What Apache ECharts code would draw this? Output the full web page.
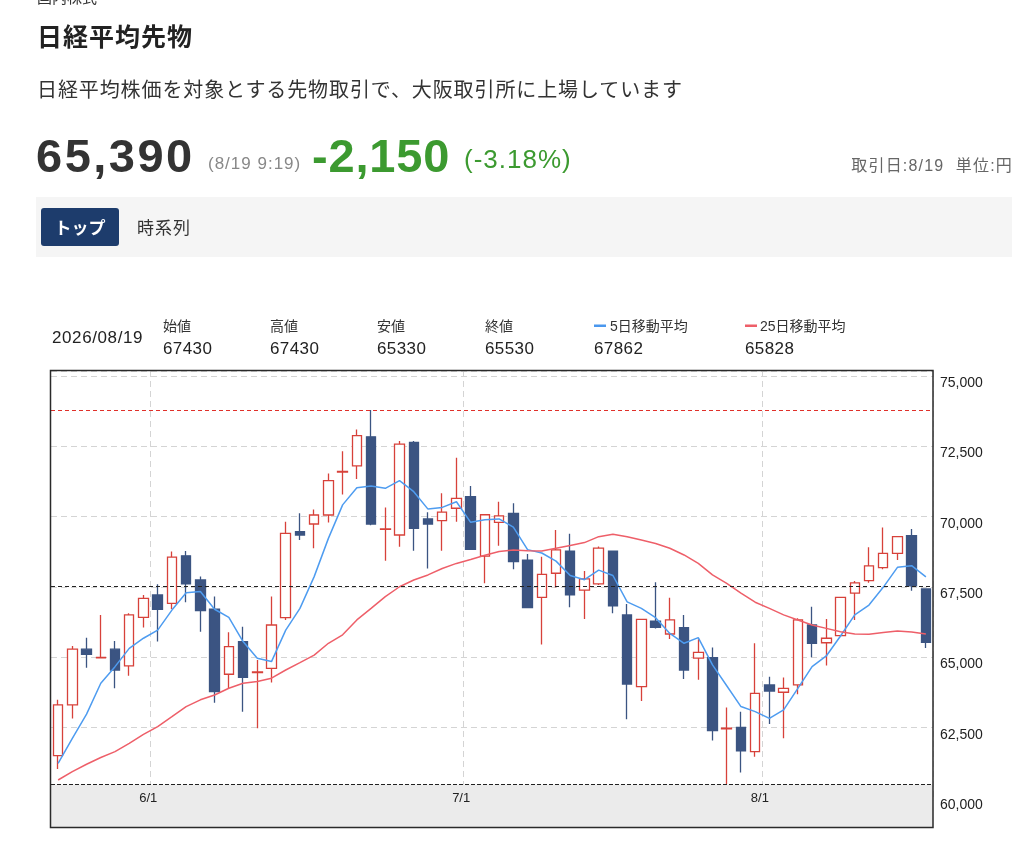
<!DOCTYPE html>
<html><head><meta charset="utf-8">
<script src="https://cdn.jsdelivr.net/npm/echarts@6/dist/echarts.min.js"></script>
<style>
html,body{margin:0;padding:0;background:#fff;width:1024px;height:859px;overflow:hidden}
#chart{position:absolute;left:0;top:0;width:1024px;height:859px}
#hdr{position:absolute;left:0;top:0;width:1024px;height:370px;pointer-events:none}
#hdr text{font-family:"Liberation Sans","Noto Sans CJK JP",sans-serif}
#hdr .jp{font-family:"Noto Sans CJK JP",sans-serif}
</style></head><body>
<div id="chart"></div>
<svg id="hdr" width="1024" height="370" xmlns="http://www.w3.org/2000/svg">
  <text class="jp" x="37" y="3" font-size="15" fill="#333">国内株式</text>
  <text class="jp" x="37" y="46" font-size="25" font-weight="bold" fill="#222" letter-spacing="1">日経平均先物</text>
  <text class="jp" x="37" y="97" font-size="20" fill="#333" letter-spacing="0.9">日経平均株価を対象とする先物取引で、大阪取引所に上場しています</text>
  <text x="36" y="172" font-size="47" font-weight="bold" fill="#333" letter-spacing="2.5">65,390</text>
  <text x="208" y="169" font-size="17" fill="#888" letter-spacing="1">(8/19 9:19)</text>
  <text x="312" y="172" font-size="47" font-weight="bold" fill="#3c9a30" letter-spacing="0.8">-2,150</text>
  <text x="464" y="168" font-size="26" fill="#3c9a30" letter-spacing="1">(-3.18%)</text>
  <text x="1013" y="171" font-size="16" fill="#666" text-anchor="end" letter-spacing="1.2">取引日:8/19&#160;&#160;単位:円</text>
  <rect x="36" y="197" width="976" height="60" fill="#f5f5f5"/>
  <rect x="41" y="208" width="78" height="38" rx="3" fill="#1d3c6c"/>
  <text class="jp" x="80" y="234" font-size="17" font-weight="bold" fill="#fff" text-anchor="middle">トップ</text>
  <text class="jp" x="137" y="234" font-size="17" fill="#333" letter-spacing="1">時系列</text>
  <text id="infoDate" x="52" y="343" font-size="17" fill="#222" letter-spacing="0.6"></text>
  <text class="jp" x="163" y="331" font-size="14" fill="#333">始値</text>
  <text class="jp" x="270" y="331" font-size="14" fill="#333">高値</text>
  <text class="jp" x="377" y="331" font-size="14" fill="#333">安値</text>
  <text class="jp" x="485" y="331" font-size="14" fill="#333">終値</text>
  <rect x="594" y="324.5" width="12" height="2.5" fill="#4a97ee"/>
  <text x="610" y="331" font-size="14" fill="#333">5日移動平均</text>
  <rect x="745" y="324.5" width="12" height="2.5" fill="#ee5f69"/>
  <text x="760" y="331" font-size="14" fill="#333">25日移動平均</text>
  <text id="vO" x="163" y="354" font-size="17" fill="#222" letter-spacing="0.4"></text>
  <text id="vH" x="270" y="354" font-size="17" fill="#222" letter-spacing="0.4"></text>
  <text id="vL" x="377" y="354" font-size="17" fill="#222" letter-spacing="0.4"></text>
  <text id="vC" x="485" y="354" font-size="17" fill="#222" letter-spacing="0.4"></text>
  <text id="vM5" x="594" y="354" font-size="17" fill="#222" letter-spacing="0.4"></text>
  <text id="vM25" x="745" y="354" font-size="17" fill="#222" letter-spacing="0.4"></text>
</svg>
<script>
const dates = [
 '2026/05/21','2026/05/22','2026/05/25','2026/05/26','2026/05/27','2026/05/28','2026/05/29',
 '2026/06/01','2026/06/02','2026/06/03','2026/06/04','2026/06/05','2026/06/08','2026/06/09','2026/06/10','2026/06/11','2026/06/12',
 '2026/06/15','2026/06/16','2026/06/17','2026/06/18','2026/06/19','2026/06/22','2026/06/23','2026/06/24','2026/06/25','2026/06/26',
 '2026/06/29','2026/06/30',
 '2026/07/01','2026/07/02','2026/07/03','2026/07/06','2026/07/07','2026/07/08','2026/07/09','2026/07/10','2026/07/13','2026/07/14',
 '2026/07/15','2026/07/16','2026/07/17','2026/07/21','2026/07/22','2026/07/23','2026/07/24','2026/07/27','2026/07/28','2026/07/29','2026/07/30',
 '2026/08/03','2026/08/04','2026/08/05','2026/08/06','2026/08/07','2026/08/10','2026/08/12','2026/08/13','2026/08/14','2026/08/17','2026/08/18','2026/08/19'
];
const opens = [61510,63310,65290,64980,65290,64700,66420,67220,66920,68610,67750,66710,64400,65560,64460,64610,66410,69470,69740,70060,71590,71810,72840,69550,69350,72640,69920,69860,70300,70710,68600,69800,70120,68460,67130,67990,68780,67390,67610,68780,66510,63960,66290,65830,66060,64970,64990,62460,62510,61650,64020,63760,64020,66150,65520,65770,67280,67730,68190,68700,69330,67430];
const highs = [63490,65400,65700,66510,65580,66570,67220,67600,68760,68780,67870,67160,65890,66090,64910,67160,69820,70120,70260,71540,72330,73100,73790,70330,72690,72690,70160,70830,72100,71090,70080,70530,70480,68670,68580,69530,69390,68070,68940,68800,66900,66360,67670,67120,66510,65640,65350,63220,63070,65500,64310,64280,66390,66800,66360,67140,67710,68910,69620,69310,69560,67430];
const lows = [61030,62830,64630,64970,63900,64350,66060,65560,66720,66960,65910,63390,63880,63070,62480,64110,66330,69170,68880,69790,70790,71340,69700,68430,68930,68790,68160,68790,69820,68830,67630,68970,68130,66760,65460,67480,66780,66360,67570,66570,62800,63450,66030,65650,64230,64200,62040,60500,60910,61470,62630,62120,63690,65000,64710,65760,66330,67650,68130,68460,67370,65330];
const closes = [63310,65290,65110,65000,64550,66510,67100,66710,68560,67610,66660,63780,65380,64290,64480,66150,69410,69350,70060,71280,71610,72880,69740,69570,72580,69590,69740,70160,70650,68840,70070,70030,68400,66770,67950,68820,67220,67790,68880,66830,64050,66350,66070,66330,64550,65180,62400,62480,61680,63720,63800,63900,66330,65500,65680,67130,67650,68250,68700,69290,67540,65530];
const ma5 = [61230,62120,62980,64080,64670,65320,65680,65970,66680,67300,67340,66710,66420,65560,64970,64850,65970,66740,67870,69230,70420,71030,71090,71010,71280,70890,70270,70330,70530,69800,69890,69920,69630,68830,68710,68420,67910,67760,68100,67910,66970,66740,66410,65850,65500,65700,64730,63990,63250,63070,62830,63130,63900,64670,65050,65760,66510,66860,67490,68200,68260,67862];
const ma25 = [60640,60940,61200,61440,61650,61940,62260,62540,62890,63250,63490,63660,63900,64080,64140,64260,64550,64810,65080,65500,65800,66330,66740,67160,67510,67750,67930,68160,68340,68480,68630,68760,68820,68790,68780,68880,68980,69080,69290,69380,69290,69170,69050,68880,68640,68340,67930,67630,67280,66960,66740,66510,66330,66150,66030,65910,65830,65820,65880,65940,65900,65828];
const prevClose = 67540;
const yTicks = {min: 60000, max: 75180, step: 2500};

const last = dates.length - 1;
document.getElementById('infoDate').textContent = dates[last];
document.getElementById('vO').textContent = opens[last];
document.getElementById('vH').textContent = highs[last];
document.getElementById('vL').textContent = lows[last];
document.getElementById('vC').textContent = closes[last];
document.getElementById('vM5').textContent = ma5[last];
document.getElementById('vM25').textContent = ma25[last];

const candleData = dates.map((d, i) => [opens[i], closes[i], lows[i], highs[i]]);
const isMonthStart = (i) => i > 0 && dates[i].slice(5, 7) !== dates[i - 1].slice(5, 7);

const NAVY = '#3b5482', RED = '#d7413a';
const chart = echarts.init(document.getElementById('chart'), null, {renderer: 'canvas'});
chart.setOption({
  animation: false,
  backgroundColor: 'transparent',
  textStyle: {fontFamily: '"Liberation Sans", Arial, sans-serif'},
  grid: {left: 51, right: 91, top: 371, bottom: 61, containLabel: false, outerBoundsMode: 'none'},
  xAxis: [{
    type: 'category', data: dates, boundaryGap: true, z: 5,
    axisLine: {show: false}, axisTick: {show: false}, splitLine: {show: false},
    axisLabel: {
      interval: (i) => isMonthStart(i),
      formatter: (v) => parseInt(v.slice(5, 7), 10) + '/1',
      margin: 0, verticalAlign: 'middle', padding: [0, 19, 0, 0],
      fontSize: 13, color: '#222'
    }
  }, {
    type: 'category', data: dates, boundaryGap: true, position: 'top', z: 0,
    axisLine: {show: false}, axisTick: {show: false}, axisLabel: {show: false},
    splitLine: {show: true, interval: (i) => isMonthStart(i), lineStyle: {color: '#d4d4d4', type: [6, 4], width: 1}}
  }],
  yAxis: {
    type: 'value', position: 'right', min: yTicks.min, max: yTicks.max, interval: yTicks.step,
    axisLine: {show: false}, axisTick: {show: false},
    splitLine: {lineStyle: {color: '#d4d4d4', type: [6, 4], width: 1}},
    axisLabel: {
      margin: 7, fontSize: 14, color: '#222', verticalAlign: 'top', lineHeight: 14,
      showMaxLabel: false,
      formatter: (v) => (v % yTicks.step === 0 ? v.toLocaleString('en-US') : '')
    }
  },
  graphic: [
    {type: 'rect', z: 1, silent: true, shape: {x: 51, y: 784.5, width: 882, height: 43}, style: {fill: '#ebebeb'}},
    {type: 'rect', z: 10, silent: true, shape: {x: 50.5, y: 370.5, width: 882.5, height: 457}, style: {fill: 'none', stroke: '#2a2a2a', lineWidth: 1.5}}
  ],
  series: [{
    type: 'candlestick', name: '日経平均先物', data: candleData, barWidth: 10, z: 3,
    itemStyle: {color: '#ffffff', color0: NAVY, borderColor: RED, borderColor0: NAVY, borderWidth: 1.3},
    markLine: {
      silent: true, symbol: ['none', 'none'], label: {show: false}, animation: false,
      data: [
        {type: 'max', valueDim: 'highest', lineStyle: {color: '#e0302a', type: [4, 3], width: 1.2}},
        {type: 'min', valueDim: 'lowest', lineStyle: {color: '#222', type: [4, 2], width: 1.2}},
        {yAxis: prevClose, lineStyle: {color: '#222', type: [4, 3], width: 1.2}}
      ]
    }
  }, {
    type: 'line', name: '5日移動平均', data: ma5, showSymbol: false, z: 4,
    lineStyle: {color: '#4e9cf0', width: 1.5}, itemStyle: {color: '#4e9cf0'}
  }, {
    type: 'line', name: '25日移動平均', data: ma25, showSymbol: false, z: 4,
    lineStyle: {color: '#ee5f69', width: 1.5}, itemStyle: {color: '#ee5f69'}
  }]
});
</script>
</body></html>
